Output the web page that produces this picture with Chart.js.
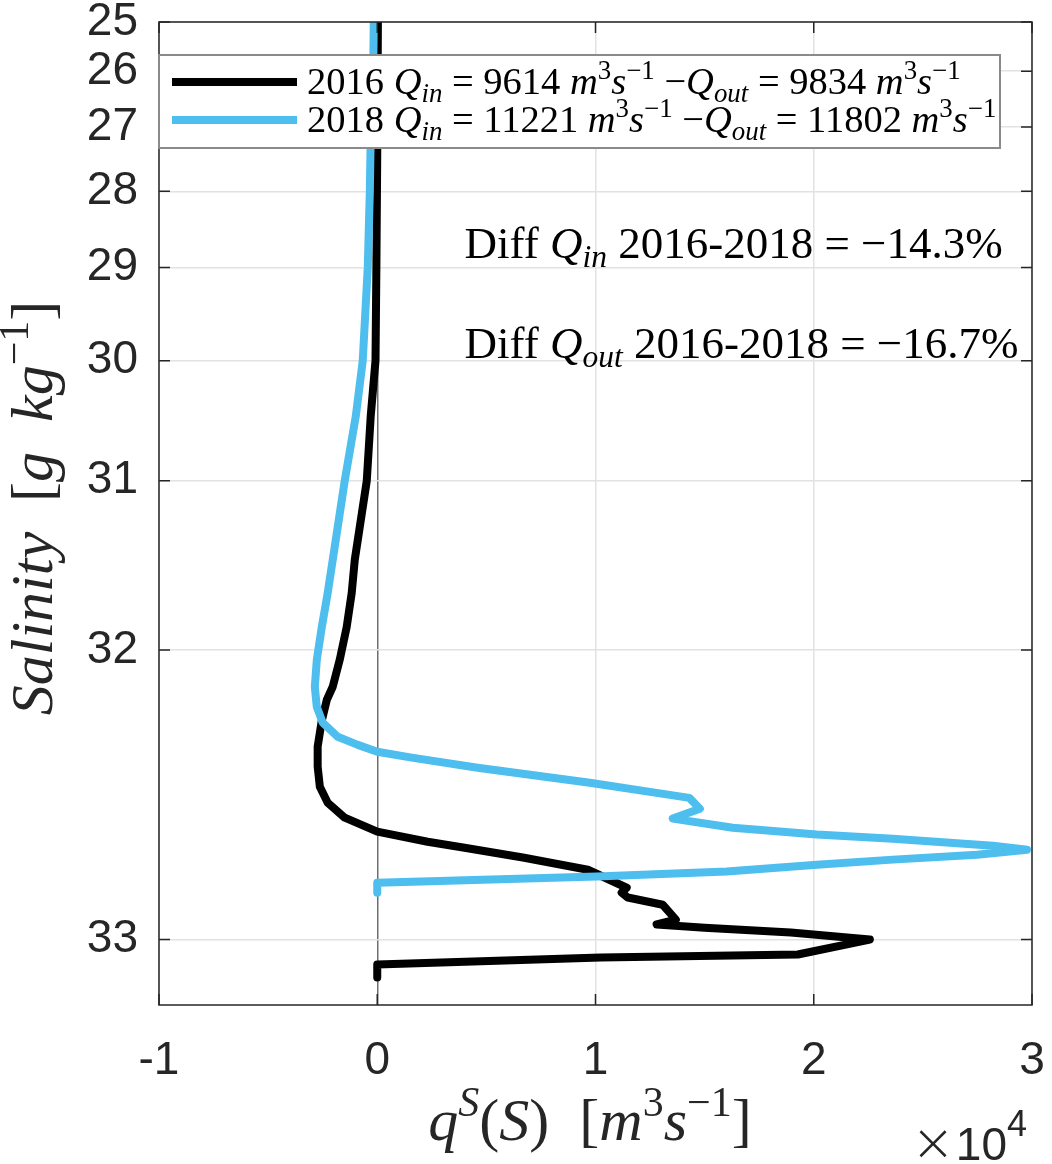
<!DOCTYPE html>
<html>
<head>
<meta charset="utf-8">
<script src="https://cdn.jsdelivr.net/npm/chart.js@4.4.1/dist/chart.umd.min.js"></script>
<style>
  body { margin: 0; background: #fff; }
  canvas { display: block; }
</style>
</head>
<body>
<canvas id="chart" width="1052" height="1164"></canvas>
<script>
// start: data
const sal2016 = [25.0, 27.4, 29.0, 30.0, 30.5, 31.0, 31.518, 31.706, 31.886, 32.046, 32.168, 32.224, 32.31, 32.413, 32.487, 32.558, 32.612, 32.661, 32.705, 32.736, 32.754, 32.783, 32.818, 32.859, 32.8675, 32.881, 32.894, 32.913, 32.951, 32.963, 32.971, 32.983, 33.0, 33.035, 33.042, 33.058, 33.087]
const q2016 = [30, 0, -40, -80, -300, -480, -1030, -1170, -1400, -1720, -2040, -2310, -2540, -2730, -2730, -2630, -2270, -1490, 0, 2310, 4000, 6670, 9650, 11110, 11430, 11200, 11480, 13080, 13680, 12800, 15000, 18950, 22570, 19270, 10240, 0, 0]

const sal2018 = [25.0, 26.54, 27.38, 28.0, 29.0, 30.0, 30.5, 31.0, 31.518, 31.706, 31.886, 32.046, 32.168, 32.254, 32.319, 32.375, 32.406, 32.432, 32.454, 32.491, 32.544, 32.579, 32.596, 32.632, 32.664, 32.693, 32.714, 32.727, 32.748, 32.76, 32.7745, 32.789, 32.8035, 32.823, 32.837, 32.854, 32.881]
const q2018 = [-160, -200, -310, -340, -435, -665, -985, -1490, -2040, -2270, -2540, -2770, -2860, -2770, -2500, -1810, -890, 0, 1580, 4600, 9740, 12800, 14300, 14780, 13540, 16290, 20140, 23620, 28210, 29770, 27480, 23620, 20140, 16010, 10060, 0, 0]

const years = ['2016', '2018']
const qIn = [9614, 11221]
const qOut = [9834, 11802]
const diffIn = '−14.3%'
const diffOut = '−16.7%'

const xTicks = [-10000, 0, 10000, 20000, 30000]
const yTicks = [25, 26, 27, 28, 29, 30, 31, 32, 33]
const sRef = 34          // axis is log(sRef - S)
const annQ = 4000        // where the Diff texts sit
const annS = [28.7, 29.83]
// end: data

const SERIF = '"Liberation Serif", "Times New Roman", serif'
const SANS = '"Liberation Sans", Arial, sans-serif'
const INK = '#262626'

// start: salinity scale
class SalinityScale extends Chart.LinearScale {
    getPixelForValue(value) {
        const a = Math.log(sRef - this.min)
        const b = Math.log(sRef - this.max)
        const d = (a - Math.log(sRef - value)) / (a - b)
        return this.top + d * this.height
    }
    getValueForPixel(pixel) {
        const a = Math.log(sRef - this.min)
        const b = Math.log(sRef - this.max)
        const d = (pixel - this.top) / this.height
        return sRef - Math.exp(a - d * (a - b))
    }
}
SalinityScale.id = 'salinity'
SalinityScale.defaults = Chart.LinearScale.defaults
Chart.register(SalinityScale)
// end: salinity scale

// start: rich text
function runFont(style, size) {
    const small = style.includes('^') || style.includes('_')
    const px = small ? size * 0.7 : size
    return (style.includes('i') ? 'italic ' : '') + px.toFixed(1) + 'px ' + SERIF
}
function richWidth(ctx, runs, size) {
    let w = 0
    runs.forEach(function ([t, s]) {
        ctx.font = runFont(s, size)
        w += ctx.measureText(t).width
    })
    return w
}
function drawRich(ctx, runs, x, y, size, align) {
    if (align === 'center') x -= richWidth(ctx, runs, size) / 2
    ctx.textAlign = 'left'
    ctx.textBaseline = 'alphabetic'
    runs.forEach(function ([t, s]) {
        ctx.font = runFont(s, size)
        let dy = 0
        if (s.includes('^')) dy = -0.4 * size
        if (s.includes('_')) dy = 0.2 * size
        ctx.fillText(t, x, y + dy)
        x += ctx.measureText(t).width
    })
}
function legendRuns(i) {
    return [['' + years[i] + ' ', 'r'], ['Q', 'i'], ['in', 'i_'], [' = ' + qIn[i] + ' ', 'r'],
        ['m', 'i'], ['3', 'r^'], ['s', 'i'], ['−1', 'r^'], [' −', 'r'], ['Q', 'i'], ['out', 'i_'],
        [' = ' + qOut[i] + ' ', 'r'], ['m', 'i'], ['3', 'r^'], ['s', 'i'], ['−1', 'r^']]
}
// end: rich text

const colors = ['#000000', '#4DBEEE']

const decor = {
    id: 'decor',
    afterDatasetsDraw(chart) {
        const ctx = chart.ctx
        const a = chart.chartArea
        const x = chart.scales.x
        const y = chart.scales.y
        ctx.save()

        // box and inward ticks
        ctx.strokeStyle = INK
        ctx.lineWidth = 1.5
        ctx.strokeRect(a.left, a.top, a.right - a.left, a.bottom - a.top)
        ctx.beginPath()
        yTicks.forEach(function (v) {
            const p = y.getPixelForValue(v)
            ctx.moveTo(a.left, p); ctx.lineTo(a.left + 11, p)
            ctx.moveTo(a.right, p); ctx.lineTo(a.right - 11, p)
        })
        xTicks.forEach(function (v) {
            const p = x.getPixelForValue(v)
            ctx.moveTo(p, a.bottom); ctx.lineTo(p, a.bottom - 11)
            ctx.moveTo(p, a.top); ctx.lineTo(p, a.top + 11)
        })
        ctx.stroke()

        // diff texts
        ctx.fillStyle = '#000'
        const ax = x.getPixelForValue(annQ)
        drawRich(ctx, [['Diff ', 'r'], ['Q', 'i'], ['in', 'i_'], [' 2016-2018 = ' + diffIn, 'r']],
            ax, y.getPixelForValue(annS[0]) + 15, 45)
        drawRich(ctx, [['Diff ', 'r'], ['Q', 'i'], ['out', 'i_'], [' 2016-2018 = ' + diffOut, 'r']],
            ax, y.getPixelForValue(annS[1]) + 15, 45)

        // legend
        const lx = a.left, ly = a.top + 33, lw = 841, lh = 93
        ctx.fillStyle = '#fff'
        ctx.fillRect(lx, ly, lw, lh)
        ctx.strokeStyle = '#8a8a8a'
        ctx.lineWidth = 2
        ctx.strokeRect(lx, ly, lw, lh)
        years.forEach(function (yr, i) {
            const cy = ly + 27 + i * 38
            ctx.strokeStyle = colors[i]
            ctx.lineWidth = 8
            ctx.beginPath()
            ctx.moveTo(lx + 13, cy)
            ctx.lineTo(lx + 138, cy)
            ctx.stroke()
            ctx.fillStyle = '#000'
            drawRich(ctx, legendRuns(i), lx + 148, cy + 12, 38.5)
        })
        ctx.restore()
    },
    afterDraw(chart) {
        const ctx = chart.ctx
        ctx.save()
        ctx.fillStyle = INK
        // x title
        drawRich(ctx, [['q', 'i'], ['S', 'i^'], ['(', 'r'], ['S', 'i'], [')', 'r'], ['  [', 'r'],
            ['m', 'i'], ['3', 'r^'], ['s', 'i'], ['−1', 'r^'], [']', 'r']], 590, 1140, 60, 'center')
        // y title
        ctx.translate(52, 508)
        ctx.rotate(-Math.PI / 2)
        drawRich(ctx, [['Salinity', 'i'], ['  [', 'r'], ['g', 'i'], ['  ', 'r'], ['kg', 'i'], ['−1', 'r^'], [']', 'r']],
            0, 0, 60, 'center')
        ctx.restore()

        // exponent
        ctx.save()
        ctx.fillStyle = INK
        ctx.textBaseline = 'alphabetic'
        ctx.textAlign = 'right'
        ctx.font = '36px ' + SANS
        ctx.fillText('4', 1027, 1136)
        const w4 = ctx.measureText('4').width
        ctx.font = '46px ' + SANS
        ctx.fillText('10', 1027 - w4, 1160)
        const w10 = ctx.measureText('10').width
        ctx.font = '300 52px "DejaVu Sans", ' + SANS
        ctx.fillText('×', 1027 - w4 - w10 - 1, 1160)
        ctx.restore()
    }
}

const datasets = [
    { label: years[0], data: sal2016.map(function (s, i) { return { x: q2016[i], y: s } }), order: 1 },
    { label: years[1], data: sal2018.map(function (s, i) { return { x: q2018[i], y: s } }), order: 0 }
].map(function (d, i) {
    return Object.assign(d, {
        showLine: true, pointRadius: 0, borderColor: colors[i], borderWidth: 8,
        borderJoinStyle: 'round', tension: 0
    })
})

new Chart(document.getElementById('chart'), {
    type: 'scatter',
    data: { datasets: datasets },
    options: {
        responsive: false,
        animation: false,
        events: [],
        layout: { padding: { top: 22, right: 20, left: 0, bottom: 0 } },
        plugins: { legend: { display: false }, tooltip: { enabled: false } },
        scales: {
            x: {
                type: 'linear',
                min: -10000,
                max: 30000,
                afterBuildTicks: function (s) { s.ticks = xTicks.map(function (v) { return { value: v } }) },
                afterFit: function (s) { s.height = 159; s.paddingLeft = 0; s.paddingRight = 0 },
                ticks: {
                    autoSkip: false, maxRotation: 0, padding: 29, color: INK,
                    font: { family: SANS, size: 46 },
                    callback: function (v) { return String(v / 10000) }
                },
                grid: {
                    drawTicks: false, lineWidth: 1.5,
                    color: function (c) { return c.tick && c.tick.value === 0 ? '#6e6e6e' : '#e2e2e2' }
                },
                border: { display: false }
            },
            y: {
                type: 'salinity',
                min: 25,
                max: 33.145,
                afterBuildTicks: function (s) { s.ticks = yTicks.map(function (v) { return { value: v } }) },
                afterFit: function (s) { s.width = 159; s.paddingTop = 0; s.paddingBottom = 0 },
                ticks: {
                    autoSkip: false, padding: 21, color: INK,
                    font: { family: SANS, size: 46, lineHeight: 1 },
                    callback: function (v) { return String(v) }
                },
                grid: { drawTicks: false, lineWidth: 1.5, color: '#e2e2e2' },
                border: { display: false }
            }
        }
    },
    plugins: [decor]
})
</script>
</body>
</html>
